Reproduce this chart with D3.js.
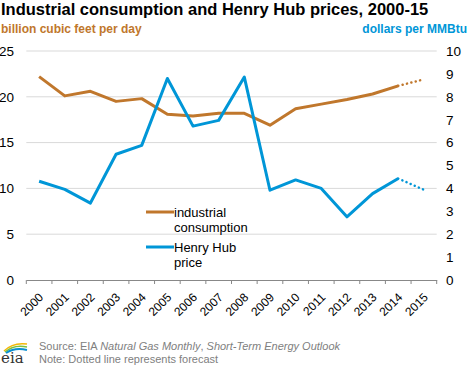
<!DOCTYPE html>
<html lang="en">
<head>
<meta charset="UTF-8">
<title>Industrial consumption and Henry Hub prices, 2000-15</title>
<script src="https://d3js.org/d3.v7.min.js"></script>
<style>
  body { margin: 0; background: #fff; }
  text { font-family: "Liberation Sans", Arial, sans-serif; }
</style>
</head>
<body>
<script>
  // chart data
  var years = ["2000","2001","2002","2003","2004","2005","2006","2007",
               "2008","2009","2010","2011","2012","2013","2014","2015"];
  var industrial = [22.2, 20.1, 20.6, 19.5, 19.8, 18.1, 17.9, 18.2,
                    18.2, 16.9, 18.7, 19.2, 19.7, 20.3, 21.2, 21.9];
  var henryHub = [4.31, 3.96, 3.36, 5.49, 5.88, 8.80, 6.72, 6.97,
                  8.86, 3.92, 4.37, 4.00, 2.76, 3.77, 4.43, 3.94];
  var leftTicks = [0, 5, 10, 15, 20, 25];
  var rightTicks = [0, 1, 2, 3, 4, 5, 6, 7, 8, 9, 10];
  var forecastFrom = 14; // index of last actual year

  var W = 468, H = 366,
      orange = "#c0772c", blue = "#0096d7";

  var svg = d3.select("body").append("svg")
    .attr("width", W).attr("height", H);

  var x = d3.scaleBand().domain(years).range([26.3, 436.7]);
  var yL = d3.scaleLinear().domain([0, 25]).range([280, 51]);
  var yR = d3.scaleLinear().domain([0, 10]).range([280, 51]);
  var cx = function (i) { return x(years[i]) + x.bandwidth() / 2; };

  // titles
  svg.append("text").attr("x", 1).attr("y", 15)
    .style("font-size", "16.5px").style("font-weight", "bold")
    .text("Industrial consumption and Henry Hub prices, 2000-15");
  svg.append("text").attr("x", 1).attr("y", 33)
    .style("font-size", "12px").style("font-weight", "bold").style("fill", orange)
    .text("billion cubic feet per day");
  svg.append("text").attr("x", 467).attr("y", 33).attr("text-anchor", "end")
    .style("font-size", "12px").style("font-weight", "bold").style("fill", blue)
    .text("dollars per MMBtu");

  // gridlines
  svg.append("g").selectAll("line").data(leftTicks.slice(1)).enter().append("line")
    .attr("x1", 26.3).attr("x2", 436.7)
    .attr("y1", function (d) { return yL(d); }).attr("y2", function (d) { return yL(d); })
    .style("stroke", "#d9d9d9").style("stroke-width", 1);

  // left axis
  var gl = svg.append("g").attr("transform", "translate(14,0)")
    .call(d3.axisLeft(yL).tickValues(leftTicks).tickSize(0).tickPadding(0));
  gl.select(".domain").remove();
  gl.selectAll("text").style("font-size", "13.5px").style("fill", "#000");

  // right axis
  var gr = svg.append("g").attr("transform", "translate(446,0)")
    .call(d3.axisRight(yR).tickValues(rightTicks).tickSize(0).tickPadding(0));
  gr.select(".domain").remove();
  gr.selectAll("text").style("font-size", "13.5px").style("fill", "#000");

  // bottom axis
  var gx = svg.append("g").attr("transform", "translate(0,280)")
    .call(d3.axisBottom(x).tickSize(0));
  gx.select(".domain").style("stroke", "#888");
  gx.selectAll(".tick text")
    .style("font-size", "12px").style("fill", "#000")
    .attr("text-anchor", "end")
    .attr("x", 0).attr("y", 0).attr("dx", 0).attr("dy", "0.35em")
    .attr("transform", "translate(2,15) rotate(-45)");
  // tick marks on band edges
  var edges = years.map(function (d) { return x(d); }).concat([x.range()[1]]);
  gx.selectAll(".edge").data(edges).enter().append("line")
    .attr("x1", function (d) { return d; }).attr("x2", function (d) { return d; })
    .attr("y1", 0).attr("y2", 4).style("stroke", "#888");

  // lines
  function drawSeries(vals, y, color) {
    var line = d3.line().x(function (d) { return cx(d.i); }).y(function (d) { return y(d.v); });
    var pts = vals.map(function (v, i) { return { i: i, v: v }; });
    svg.append("path").datum(pts.slice(0, forecastFrom + 1)).attr("d", line)
      .style("fill", "none").style("stroke", color).style("stroke-width", 3)
      .style("stroke-linejoin", "round");
    svg.append("path").datum(pts.slice(forecastFrom)).attr("d", line)
      .style("fill", "none").style("stroke", color).style("stroke-width", 2.5)
      .style("stroke-linecap", "round").style("stroke-dasharray", "0.1 4.4")
      .style("stroke-dashoffset", -4.5);
  }
  drawSeries(industrial, yL, orange);
  drawSeries(henryHub, yR, blue);

  // legend
  var legend = [
    { lines: ["industrial", "consumption"], color: orange, y: 212 },
    { lines: ["Henry Hub", "price"], color: blue, y: 247 }
  ];
  legend.forEach(function (l) {
    svg.append("line").attr("x1", 146).attr("x2", 174).attr("y1", l.y).attr("y2", l.y)
      .style("stroke", l.color).style("stroke-width", 3);
    var t = svg.append("text").attr("x", 174).attr("y", l.y + 4.5)
      .style("font-size", "13px").style("fill", "#000");
    l.lines.forEach(function (s, k) {
      t.append("tspan").attr("x", 174).attr("dy", k ? 15 : 0).text(s);
    });
  });

  // footer
  var src = svg.append("text").attr("x", 39).attr("y", 350)
    .style("font-size", "11px").style("fill", "#808080");
  src.append("tspan").text("Source: EIA ");
  src.append("tspan").style("font-style", "italic").text("Natural Gas Monthly");
  src.append("tspan").text(", ");
  src.append("tspan").style("font-style", "italic").text("Short-Term Energy Outlook");
  svg.append("text").attr("x", 39).attr("y", 363)
    .style("font-size", "11px").style("fill", "#808080")
    .text("Note: Dotted line represents forecast");

  // eia logo
  var logo = svg.append("g").attr("transform", "translate(0,338)");
  logo.append("path").attr("d", "M4,13 Q13,4 27,6").style("fill", "none")
    .style("stroke", "#f2b705").style("stroke-width", 1.5);
  logo.append("path").attr("d", "M5,14 Q14,6 27,9").style("fill", "none")
    .style("stroke", "#7bbf3f").style("stroke-width", 1.5);
  logo.append("path").attr("d", "M6,15 Q15,9 27,12").style("fill", "none")
    .style("stroke", "#0a8fd0").style("stroke-width", 2);
  logo.append("text").attr("x", 1).attr("y", 25)
    .style("font-family", "'DejaVu Serif', serif").style("font-size", "15px")
    .style("fill", "#333").text("eia");
</script>
</body>
</html>
